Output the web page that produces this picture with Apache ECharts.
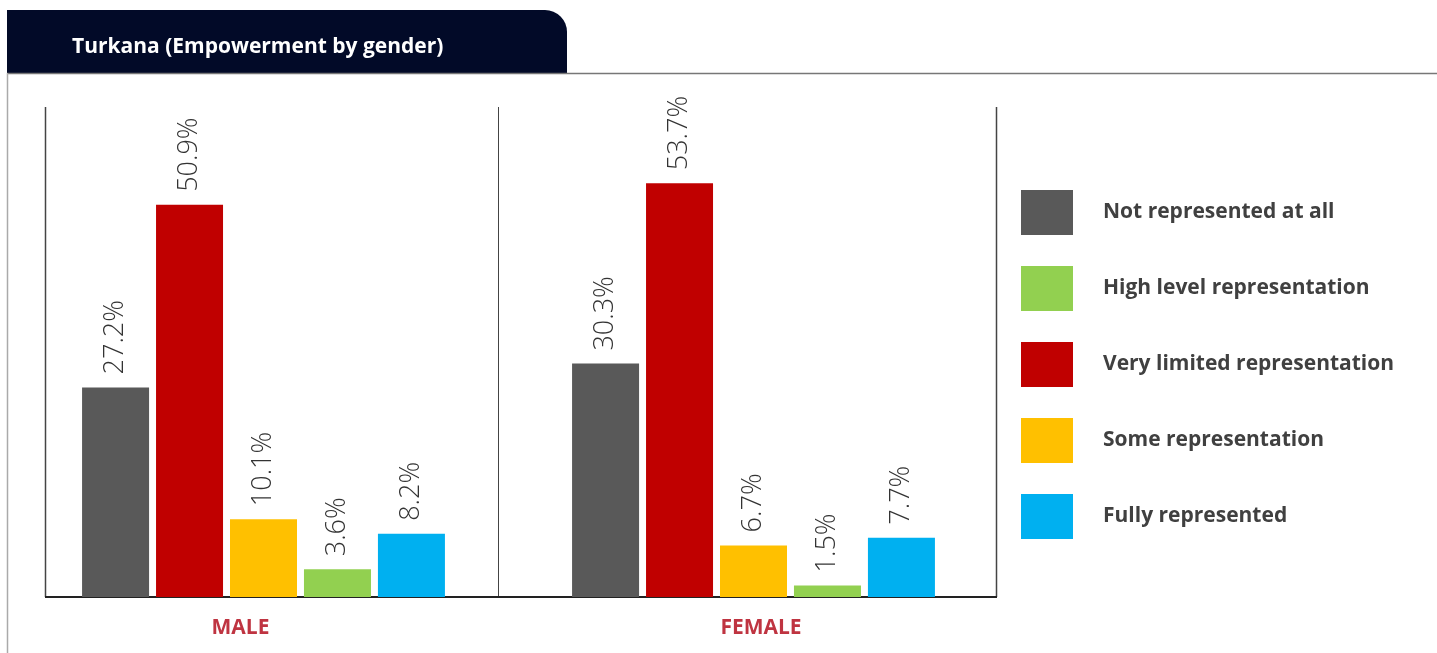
<!DOCTYPE html>
<html>
<head>
<meta charset="utf-8">
<script src="https://cdn.jsdelivr.net/npm/echarts@6/dist/echarts.min.js"></script>
<style>
  html, body { margin: 0; padding: 0; background: #fff; }
  #chart { width: 1437px; height: 653px; }
</style>
</head>
<body>
<div id="chart"></div>
<script>
// data
const genders = ["MALE", "FEMALE"];
const levels = [
  "Not represented at all",
  "Very limited representation",
  "Some representation",
  "High level representation",
  "Fully represented",
];
const maleValues = [27.2, 50.9, 10.1, 3.6, 8.2];
const femaleValues = [30.3, 53.7, 6.7, 1.5, 7.7];
const legendOrder = [
  "Not represented at all",
  "High level representation",
  "Very limited representation",
  "Some representation",
  "Fully represented",
];
const colors = ["#595959", "#c00000", "#ffc000", "#92d050", "#00b0f0"];

const chart = echarts.init(document.getElementById("chart"));

const labelStyle = {
  show: true,
  position: "top",
  rotate: 90,
  align: "left",
  verticalAlign: "middle",
  distance: 13,
  formatter: "{c}%",
  fontSize: 27,
  fontFamily: "Open Sans",
  fontWeight: 300,
  color: "#333",
};

const series = [];
[maleValues, femaleValues].forEach((vals, gi) => {
  levels.forEach((name, i) => {
    series.push({
      name: name,
      type: "bar",
      xAxisIndex: gi,
      yAxisIndex: gi,
      data: [vals[i]],
      barWidth: 67,
      barGap: "10.4%",
      itemStyle: { color: colors[i] },
      label: labelStyle,
    });
  });
});

const axisLabelBase = {
  fontSize: 21,
  fontWeight: "bold",
  fontFamily: "Open Sans",
  color: "#bf3441",
  margin: 21,
};

const frameLine = (x1, y1, x2, y2, color, w) => ({
  type: "line",
  shape: { x1: x1, y1: y1, x2: x2, y2: y2 },
  style: { stroke: color, lineWidth: w },
  silent: true,
});

const option = {
  animation: false,
  title: {
    text: "Turkana (Empowerment by gender)",
    left: 72,
    top: 37,
    padding: 0,
    textStyle: { color: "#fff", fontSize: 21, fontWeight: "bold", fontFamily: "Open Sans" },
  },
  legend: {
    data: legendOrder,
    orient: "vertical",
    left: 1021,
    top: 190,
    padding: 0,
    icon: "rect",
    itemWidth: 52,
    itemHeight: 45,
    itemGap: 31,
    textStyle: {
      fontSize: 21,
      fontWeight: "bold",
      fontFamily: "Open Sans",
      color: "#404040",
      padding: [0, 0, 0, 25],
    },
  },
  grid: [
    { left: 45, top: 107, width: 437, height: 490 },
    { left: 510, top: 107, width: 487, height: 490 },
  ],
  xAxis: [
    {
      type: "category", gridIndex: 0, data: [genders[0]],
      axisLine: { show: false }, axisTick: { show: false },
      axisLabel: Object.assign({}, axisLabelBase, { padding: [0, 46, 0, 0] }),
    },
    {
      type: "category", gridIndex: 1, data: [genders[1]],
      axisLine: { show: false }, axisTick: { show: false },
      axisLabel: Object.assign({}, axisLabelBase, { padding: [0, 0, 0, 15] }),
    },
  ],
  yAxis: [
    { type: "value", gridIndex: 0, min: 0, max: 63.6, show: false },
    { type: "value", gridIndex: 1, min: 0, max: 63.6, show: false },
  ],
  series: series,
  graphic: [
    {
      type: "rect",
      z: -1,
      shape: { x: 7, y: 10, width: 560, height: 63, r: [0, 22, 0, 0] },
      style: { fill: "#020a28" },
      silent: true,
    },
    frameLine(7, 73.5, 1437, 73.5, "#777", 1.5),
    frameLine(7.5, 73, 7.5, 653, "#aaa", 1.5),
    frameLine(45.5, 107, 45.5, 597, "#444", 1.5),
    frameLine(498.5, 107, 498.5, 597, "#444", 1),
    frameLine(996.5, 107, 996.5, 597, "#444", 1.5),
    frameLine(45, 597, 997, 597, "#222", 2),
  ],
};

chart.setOption(option);
</script>
</body>
</html>
